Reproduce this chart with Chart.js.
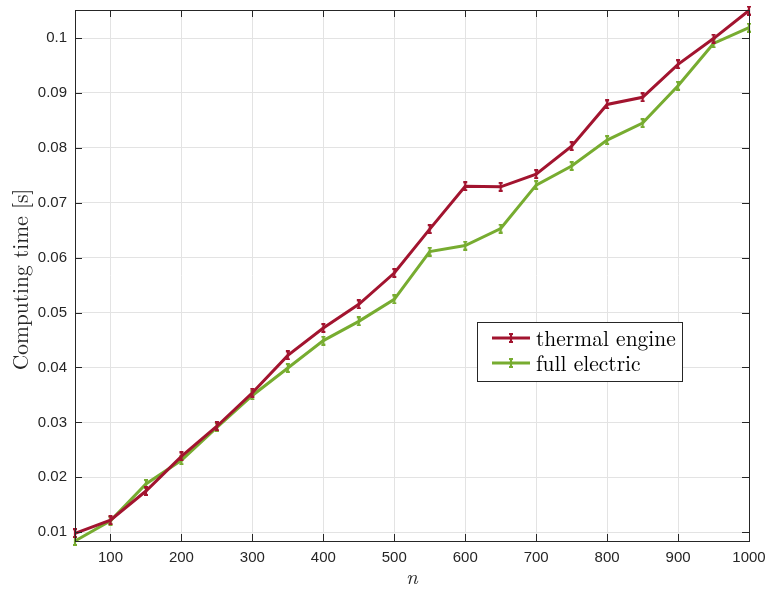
<!DOCTYPE html>
<html>
<head>
<meta charset="utf-8">
<script src="https://cdn.jsdelivr.net/npm/chart.js@4/dist/chart.umd.min.js"></script>
<style>
  html, body { margin: 0; padding: 0; background: #fff; }
  #wrap { width: 765px; height: 591px; }
</style>
</head>
<body>
<div id="wrap"><canvas id="chart" width="765" height="591"></canvas></div>
<script>
// dados
const nValues = [50, 100, 150, 200, 250, 300, 350, 400, 450, 500, 550, 600, 650, 700, 750, 800, 850, 900, 950, 1000];
const thermalEngine = [0.0098, 0.0122, 0.0175, 0.0238, 0.0293, 0.0354, 0.0422, 0.0472, 0.0515, 0.0572,
  0.0652, 0.0730, 0.0729, 0.0752, 0.0803, 0.0879, 0.0892, 0.0952, 0.0999, 0.1050];
const fullElectric = [0.0084, 0.0121, 0.0188, 0.0231, 0.0291, 0.0349, 0.0399, 0.0449, 0.0484, 0.0524,
  0.0611, 0.0622, 0.0653, 0.0732, 0.0767, 0.0814, 0.0845, 0.0913, 0.0990, 0.1019];
const seriesNames = ['thermal engine', 'full electric'];
const seriesColors = ['#A2142F', '#77AC30'];

const AXIS = '#262626';
const SERIF = '"Latin Modern Roman", "DejaVu Serif", "Liberation Serif", serif';
const SANS = '"Liberation Sans", Arial, sans-serif';

// marcador tipo barra de erro (linha vertical com tampinhas)
function fazMarcador(cor) {
  const c = document.createElement('canvas');
  c.width = 8; c.height = 10;
  const g = c.getContext('2d');
  g.strokeStyle = cor;
  g.lineWidth = 2.2;
  g.beginPath();
  g.moveTo(4, 1); g.lineTo(4, 9);
  g.moveTo(2, 1); g.lineTo(6, 1);
  g.moveTo(2, 9); g.lineTo(6, 9);
  g.stroke();
  return c;
}

function fmtTick(v) {
  return String(Math.round(v * 1000) / 1000);
}

// caixa, ticks internos, rotulos dos eixos e legenda
const estiloMatlab = {
  id: 'estiloMatlab',
  afterDraw(chart) {
    const { ctx, chartArea: a, scales: { x, y } } = chart;
    ctx.save();
    ctx.strokeStyle = AXIS;
    ctx.lineWidth = 1;
    ctx.strokeRect(Math.round(a.left) + 0.5, Math.round(a.top) + 0.5,
      Math.round(a.right - a.left), Math.round(a.bottom - a.top));
    const tl = 7;
    ctx.beginPath();
    x.ticks.forEach(t => {
      const px = Math.round(x.getPixelForValue(t.value)) + 0.5;
      ctx.moveTo(px, a.bottom); ctx.lineTo(px, a.bottom - tl);
      ctx.moveTo(px, a.top); ctx.lineTo(px, a.top + tl);
    });
    y.ticks.forEach(t => {
      const py = Math.round(y.getPixelForValue(t.value)) + 0.5;
      ctx.moveTo(a.left, py); ctx.lineTo(a.left + tl, py);
      ctx.moveTo(a.right, py); ctx.lineTo(a.right - tl, py);
    });
    ctx.stroke();

    // rotulos
    ctx.fillStyle = AXIS;
    ctx.font = 'italic 21px ' + SERIF;
    ctx.textAlign = 'center';
    ctx.textBaseline = 'middle';
    ctx.fillText('n', (a.left + a.right) / 2, 578);
    ctx.save();
    ctx.translate(21, (a.top + a.bottom) / 2 + 4);
    ctx.rotate(-Math.PI / 2);
    ctx.font = '21.5px ' + SERIF;
    ctx.fillText('Computing time [s]', 0, 0);
    ctx.restore();

    // legenda
    const lx = 477, ly = 322, lw = 205, lh = 59;
    ctx.fillStyle = '#fff';
    ctx.fillRect(lx, ly, lw, lh);
    ctx.strokeStyle = AXIS;
    ctx.strokeRect(lx + 0.5, ly + 0.5, lw, lh);
    ctx.font = '21.5px ' + SERIF;
    ctx.textAlign = 'left';
    seriesNames.forEach((nome, i) => {
      const yy = ly + 16 + i * 25;
      ctx.strokeStyle = seriesColors[i];
      ctx.lineWidth = 3;
      ctx.beginPath();
      ctx.moveTo(492, yy); ctx.lineTo(530, yy);
      ctx.stroke();
      ctx.drawImage(fazMarcador(seriesColors[i]), 507, yy - 5);
      ctx.fillStyle = '#000';
      ctx.fillText(nome, 536, yy + 1);
    });
    ctx.restore();
  }
};

const ctx = document.getElementById('chart').getContext('2d');
new Chart(ctx, {
  type: 'line',
  data: {
    datasets: [thermalEngine, fullElectric].map((serie, i) => ({
      label: seriesNames[i],
      data: nValues.map((n, k) => ({ x: n, y: serie[k] })),
      borderColor: seriesColors[i],
      backgroundColor: seriesColors[i],
      borderWidth: 3,
      tension: 0,
      pointStyle: fazMarcador(seriesColors[i]),
      pointRadius: 4,
      clip: false
    }))
  },
  options: {
    responsive: false,
    animation: false,
    devicePixelRatio: 1,
    layout: { padding: { top: 10, right: 16, left: 0, bottom: 0 } },
    plugins: { legend: { display: false }, tooltip: { enabled: false } },
    scales: {
      x: {
        type: 'linear',
        min: 50, max: 1000,
        afterFit: s => { s.height = 50; s.paddingLeft = 0; s.paddingRight = 0; },
        border: { display: false },
        grid: { color: '#e3e3e3', drawTicks: false },
        ticks: {
          stepSize: 100, includeBounds: false, padding: 8,
          color: AXIS, font: { family: SANS, size: 15 },
          maxRotation: 0,
          callback: v => String(v)
        }
      },
      y: {
        type: 'linear',
        min: 0.0084, max: 0.1051,
        afterFit: s => { s.width = 75; s.paddingTop = 0; s.paddingBottom = 0; },
        border: { display: false },
        grid: { color: '#e3e3e3', drawTicks: false },
        ticks: {
          stepSize: 0.01, includeBounds: false, padding: 8,
          color: AXIS, font: { family: SANS, size: 15 },
          callback: v => fmtTick(v)
        }
      }
    }
  },
  plugins: [estiloMatlab]
});
</script>
</body>
</html>
